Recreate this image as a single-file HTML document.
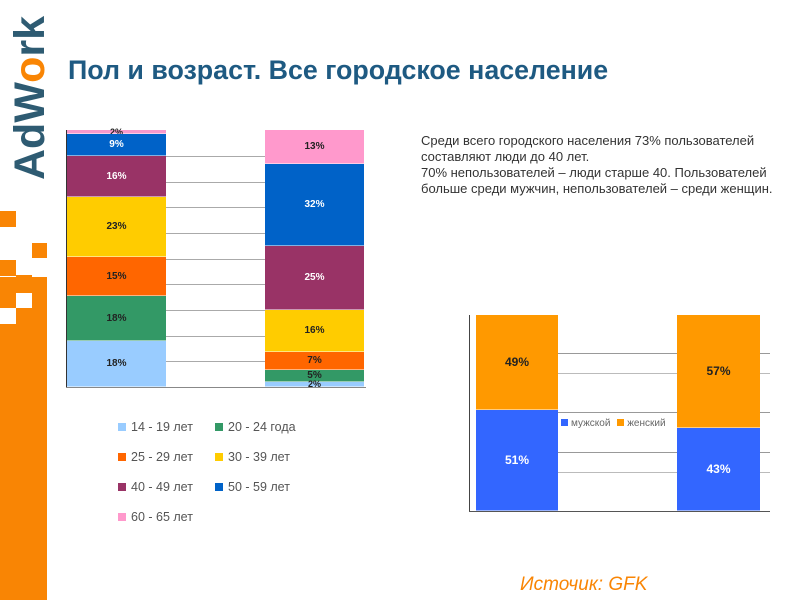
<!DOCTYPE html>
<html><head><meta charset="utf-8"><style>
body{margin:0;width:800px;height:600px;background:#fff;position:relative;overflow:hidden;font-family:"Liberation Sans",sans-serif}
.a{position:absolute}
.o{position:absolute;background:#f98504}
.w{position:absolute;background:#fff}
.seg{position:absolute;display:flex;align-items:center;justify-content:center;font-size:10px;font-weight:bold;color:#222;box-sizing:border-box;border-bottom:1px solid rgba(255,255,255,.5)}
.wt{color:#fff}
.g{position:absolute;height:1px;background:#aaa}
.lg{position:absolute;font-size:12.5px;color:#555}
.lg i{display:inline-block;width:8px;height:8px;margin-right:5px}
</style></head><body>
<div class="o" style="left:0;top:211px;width:16px;height:16px"></div>
<div class="o" style="left:32px;top:243px;width:15px;height:15px"></div>
<div class="o" style="left:0;top:260px;width:16px;height:16px"></div>
<div class="o" style="left:16px;top:275px;width:16px;height:16px"></div>
<div class="o" style="left:0;top:277px;width:47px;height:323px"></div>
<div class="w" style="left:16px;top:293px;width:16px;height:15px"></div>
<div class="w" style="left:0;top:308px;width:16px;height:16px"></div>
<div class="a" style="left:-52px;top:78px;width:164px;height:40px;transform:rotate(-90deg);font-size:43px;font-weight:bold;color:#2e5b72;line-height:40px;text-align:center">AdW<span style="color:#f98504">o</span>rk</div>
<div class="a" style="left:68px;top:55px;font-size:26.8px;font-weight:bold;color:#1e5a82;white-space:nowrap">Пол и возраст. Все городское население</div>

<div class="a" style="left:66px;top:130px;width:1px;height:258px;background:#333"></div>
<div class="g" style="left:166px;width:99px;top:156px"></div>
<div class="g" style="left:166px;width:99px;top:182px"></div>
<div class="g" style="left:166px;width:99px;top:207px"></div>
<div class="g" style="left:166px;width:99px;top:233px"></div>
<div class="g" style="left:166px;width:99px;top:259px"></div>
<div class="g" style="left:166px;width:99px;top:284px"></div>
<div class="g" style="left:166px;width:99px;top:310px"></div>
<div class="g" style="left:166px;width:99px;top:336px"></div>
<div class="g" style="left:166px;width:99px;top:361px"></div>
<div class="g" style="left:66px;width:300px;top:387px;background:#888"></div>

<div class="seg" style="left:67px;width:99px;top:130px;height:4px;background:#f799cc;font-size:9px">2%</div>
<div class="seg wt" style="left:67px;width:99px;top:134px;height:22px;background:#0062c8">9%</div>
<div class="seg wt" style="left:67px;width:99px;top:156px;height:41px;background:#993366">16%</div>
<div class="seg" style="left:67px;width:99px;top:197px;height:60px;background:#ffcc00">23%</div>
<div class="seg" style="left:67px;width:99px;top:257px;height:39px;background:#ff6600">15%</div>
<div class="seg" style="left:67px;width:99px;top:296px;height:45px;background:#339966">18%</div>
<div class="seg" style="left:67px;width:99px;top:341px;height:46px;background:#99ccff">18%</div>

<div class="seg" style="left:265px;width:99px;top:130px;height:34px;background:#ff99cc">13%</div>
<div class="seg wt" style="left:265px;width:99px;top:164px;height:82px;background:#0062c8">32%</div>
<div class="seg wt" style="left:265px;width:99px;top:246px;height:64px;background:#993366">25%</div>
<div class="seg" style="left:265px;width:99px;top:310px;height:42px;background:#ffcc00">16%</div>
<div class="seg" style="left:265px;width:99px;top:352px;height:18px;background:#ff6600">7%</div>
<div class="seg" style="left:265px;width:99px;top:370px;height:12px;background:#339966">5%</div>
<div class="seg" style="left:265px;width:99px;top:382px;height:5px;background:#99ccff;font-size:9px">2%</div>

<div class="lg" style="left:118px;top:420px"><i style="background:#99ccff"></i>14 - 19 лет</div>
<div class="lg" style="left:215px;top:420px"><i style="background:#339966"></i>20 - 24 года</div>
<div class="lg" style="left:118px;top:450px"><i style="background:#ff6600"></i>25 - 29 лет</div>
<div class="lg" style="left:215px;top:450px"><i style="background:#ffcc00"></i>30 - 39 лет</div>
<div class="lg" style="left:118px;top:480px"><i style="background:#993366"></i>40 - 49 лет</div>
<div class="lg" style="left:215px;top:480px"><i style="background:#0062c8"></i>50 - 59 лет</div>
<div class="lg" style="left:118px;top:510px"><i style="background:#ff99cc"></i>60 - 65 лет</div>

<div class="a" style="left:421px;top:133px;font-size:13px;line-height:16px;color:#333;white-space:nowrap">Среди всего городского населения 73% пользователей<br>составляют люди до 40 лет.<br>70% непользователей – люди старше 40. Пользователей<br>больше среди мужчин, непользователей – среди женщин.</div>

<div class="a" style="left:469px;top:315px;width:1px;height:197px;background:#444"></div>
<div class="g" style="left:558px;width:212px;top:353px;background:#999"></div>
<div class="g" style="left:558px;width:212px;top:373px;background:#bbb"></div>
<div class="g" style="left:558px;width:212px;top:412px;background:#999"></div>
<div class="g" style="left:558px;width:212px;top:452px;background:#999"></div>
<div class="g" style="left:558px;width:212px;top:472px;background:#bbb"></div>
<div class="g" style="left:469px;width:301px;top:511px;background:#555"></div>
<div class="seg" style="left:476px;width:82px;top:315px;height:95px;background:#ff9900;font-size:12px">49%</div>
<div class="seg wt" style="left:476px;width:82px;top:410px;height:101px;background:#3366ff;font-size:12px">51%</div>
<div class="seg" style="left:677px;width:83px;top:315px;height:113px;background:#ff9900;font-size:12px">57%</div>
<div class="seg wt" style="left:677px;width:83px;top:428px;height:83px;background:#3366ff;font-size:12px">43%</div>
<div class="a" style="left:561px;top:418px;font-size:10px;color:#666;background:#fff;white-space:nowrap"><i style="display:inline-block;width:7px;height:7px;background:#3366ff;margin-right:3px"></i>мужской <i style="display:inline-block;width:7px;height:7px;background:#ff9900;margin:0 3px 0 4px"></i>женский</div>

<div class="a" style="left:520px;top:574px;font-size:19px;font-style:italic;color:#f98504">Источик: GFK</div>
</body></html>
